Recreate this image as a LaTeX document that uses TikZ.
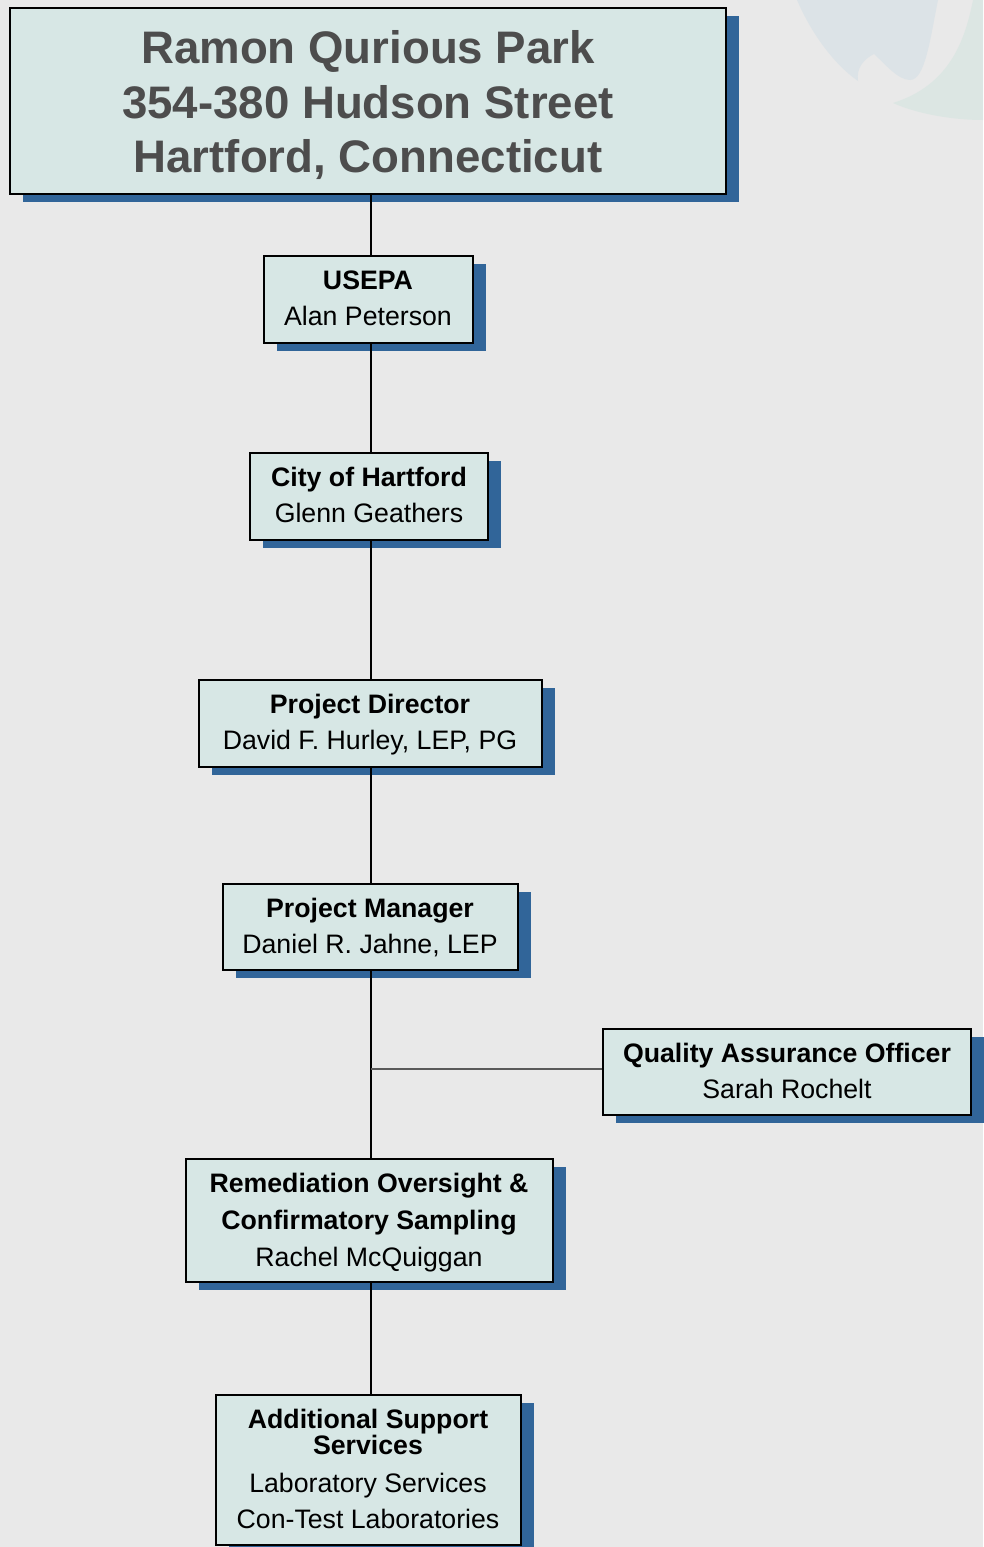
\documentclass[tikz,border=0pt]{standalone}
\usepackage{fontspec}
\setmainfont{Liberation Sans}
\usetikzlibrary{shadows}
\definecolor{bg}{RGB}{233,233,233}
\definecolor{boxfill}{RGB}{215,231,229}
\definecolor{shade}{RGB}{49,101,153}
\definecolor{titlegray}{RGB}{77,77,77}
\definecolor{wmblue}{RGB}{220,227,231}
\definecolor{wmgreen}{RGB}{220,230,227}
\definecolor{linkgray}{RGB}{90,90,90}
\begin{document}
\begin{tikzpicture}[x=1pt,y=-1pt,
  orgbox/.style={draw=black,line width=2.4pt,fill=boxfill,inner sep=0pt,
    drop shadow={shadow xshift=13pt,shadow yshift=-8pt,fill=shade,opacity=1}},
  ttl/.style={font=\fontsize{45.6}{54}\selectfont\bfseries,text=titlegray,anchor=base,inner sep=0pt},
  hd/.style={font=\fontsize{26.7}{30}\selectfont\bfseries,anchor=base,inner sep=0pt},
  nm/.style={font=\fontsize{26.7}{30}\selectfont,anchor=base,inner sep=0pt},
  link/.style={draw=black,line width=2pt},
  sidelink/.style={draw=linkgray,line width=2pt}]
\useasboundingbox (0,0) rectangle (983,1547);
\fill[bg] (0,0) rectangle (983,1547);
% watermark
\fill[wmblue] (797,0) .. controls (812,35) and (835,65) .. (858,81)
  .. controls (856,68) and (864,59) .. (874,54)
  .. controls (885,64) and (898,80) .. (910,80)
  .. controls (925,80) and (930,40) .. (938,0) -- cycle;
\fill[wmgreen] (973,0) .. controls (965,40) and (950,85) .. (893,103)
  .. controls (915,113) and (950,120) .. (983,120) -- (983,0) -- cycle;
% boxes
\node[orgbox,minimum width=716pt,minimum height=186pt] (title) at (368,101) {};
\node[orgbox,minimum width=209pt,minimum height=87pt] (usepa) at (368.5,299.5) {};
\node[orgbox,minimum width=238pt,minimum height=87pt] (city) at (369,496.5) {};
\node[orgbox,minimum width=343pt,minimum height=87pt] (director) at (370.5,723.5) {};
\node[orgbox,minimum width=295pt,minimum height=86pt] (manager) at (370.5,927) {};
\node[orgbox,minimum width=368pt,minimum height=86pt] (qa) at (787,1072) {};
\node[orgbox,minimum width=367pt,minimum height=123pt] (remed) at (369.5,1220.5) {};
\node[orgbox,minimum width=305pt,minimum height=150pt] (addl) at (368.5,1470) {};
% connectors
\coordinate (spine) at (371,0);
\draw[link] (title.south -| spine) -- (usepa.north -| spine);
\draw[link] (usepa.south -| spine) -- (city.north -| spine);
\draw[link] (city.south -| spine) -- (director.north -| spine);
\draw[link] (director.south -| spine) -- (manager.north -| spine);
\draw[link] (manager.south -| spine) -- (remed.north -| spine);
\draw[link] (remed.south -| spine) -- (addl.north -| spine);
\coordinate (qajoin) at (371,1069);
\draw[sidelink] (qajoin) -- (qajoin -| qa.west);
% texts
\node[ttl] (t1) at (368,63) {Ramon Qurious Park};
\node[ttl] (t2) at (368,118) {354-380 Hudson Street};
\node[ttl] (t3) at (368,172) {Hartford, Connecticut};
\node[hd] (usepa1) at (368,289) {USEPA};
\node[nm] (usepa2) at (368,325) {Alan Peterson};
\node[hd] (city1) at (369,486) {City of Hartford};
\node[nm] (city2) at (369,522) {Glenn Geathers};
\node[hd] (dir1) at (370,713) {Project Director};
\node[nm] (dir2) at (370,749) {David F. Hurley, LEP, PG};
\node[hd] (man1) at (370,917) {Project Manager};
\node[nm] (man2) at (370,953) {Daniel R. Jahne, LEP};
\node[hd] (qa1) at (787,1062) {Quality Assurance Officer};
\node[nm] (qa2) at (787,1098) {Sarah Rochelt};
\node[hd] (rem1) at (369,1192) {Remediation Oversight \&};
\node[hd] (rem2) at (369,1229) {Confirmatory Sampling};
\node[nm] (rem3) at (369,1266) {Rachel McQuiggan};
\node[hd] (add1) at (368,1428) {Additional Support};
\node[hd] (add2) at (368,1454) {Services};
\node[nm] (add3) at (368,1492) {Laboratory Services};
\node[nm] (add4) at (368,1528) {Con-Test Laboratories};
\end{tikzpicture}
\end{document}
